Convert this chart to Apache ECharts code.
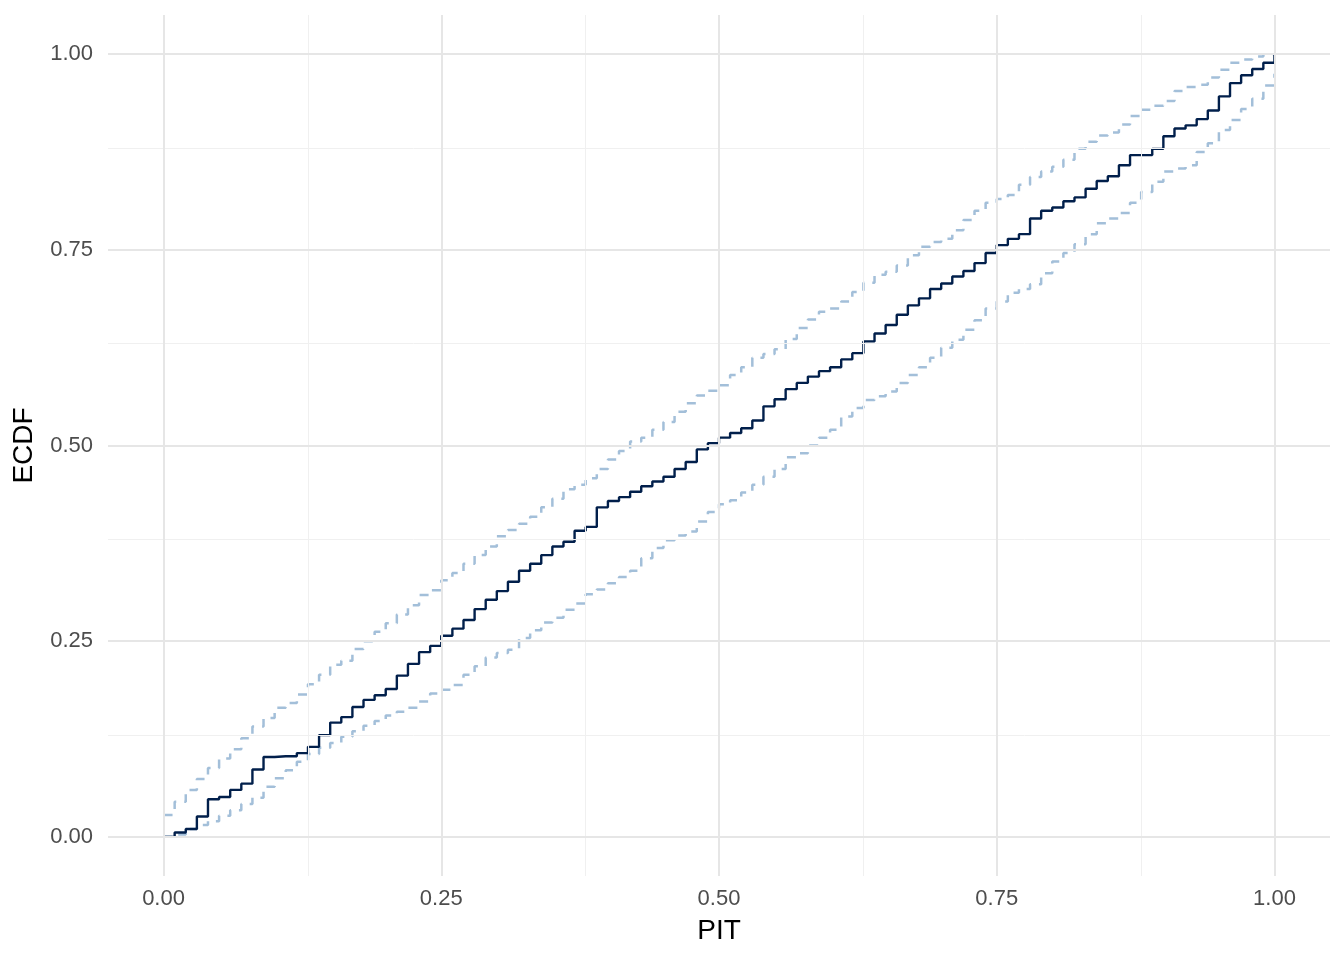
<!DOCTYPE html>
<html>
<head>
<meta charset="utf-8">
<script src="https://cdn.jsdelivr.net/npm/echarts@6/dist/echarts.min.js"></script>
<style>
  html, body { margin: 0; padding: 0; background: #fff; }
  #chart { width: 1344px; height: 960px; }
</style>
</head>
<body>
<div id="chart"></div>
<script>
// PIT evaluation grid (0, 0.01, ..., 1)
const pitGrid = Array.from({ length: 101 }, (_, i) => i / 100)

const ecdf = [
  0, 0.0055, 0.01, 0.026, 0.048, 0.051, 0.060, 0.068, 0.086, 0.102,
  0.103, 0.103, 0.107, 0.115, 0.130, 0.146, 0.153, 0.166, 0.175, 0.181,
  0.189, 0.206, 0.221, 0.236, 0.244, 0.257, 0.266, 0.277, 0.291, 0.303,
  0.314, 0.326, 0.340, 0.349, 0.360, 0.371, 0.377, 0.391, 0.396, 0.421,
  0.429, 0.434, 0.441, 0.448, 0.454, 0.460, 0.470, 0.479, 0.495, 0.503,
  0.510, 0.516, 0.522, 0.532, 0.550, 0.559, 0.572, 0.580, 0.588, 0.595,
  0.600, 0.610, 0.618, 0.633, 0.643, 0.654, 0.667, 0.679, 0.688, 0.700,
  0.707, 0.716, 0.723, 0.733, 0.746, 0.756, 0.764, 0.770, 0.790, 0.800,
  0.804, 0.812, 0.817, 0.828, 0.838, 0.844, 0.858, 0.871, 0.871, 0.879,
  0.895, 0.905, 0.909, 0.917, 0.928, 0.946, 0.963, 0.973, 0.981, 0.989,
  1.0
]

// simultaneous confidence band, upper edge
const upperBand = [
  0.028, 0.045, 0.060, 0.074, 0.088, 0.100, 0.112, 0.126, 0.141, 0.152,
  0.165, 0.171, 0.182, 0.195, 0.207, 0.220, 0.225, 0.240, 0.250, 0.262,
  0.273, 0.284, 0.296, 0.309, 0.315, 0.328, 0.337, 0.349, 0.360, 0.371,
  0.384, 0.392, 0.400, 0.409, 0.421, 0.432, 0.444, 0.450, 0.458, 0.470,
  0.482, 0.493, 0.505, 0.510, 0.520, 0.530, 0.543, 0.554, 0.564, 0.570,
  0.577, 0.590, 0.600, 0.612, 0.617, 0.623, 0.636, 0.650, 0.661, 0.671,
  0.675, 0.684, 0.696, 0.708, 0.718, 0.722, 0.730, 0.743, 0.754, 0.760,
  0.764, 0.775, 0.788, 0.800, 0.810, 0.815, 0.820, 0.833, 0.843, 0.850,
  0.856, 0.865, 0.879, 0.888, 0.896, 0.900, 0.910, 0.921, 0.929, 0.934,
  0.940, 0.953, 0.958, 0.961, 0.970, 0.980, 0.989, 0.993, 0.997, 1.0,
  1.0
]

// simultaneous confidence band, lower edge
const lowerBand = [
  0, 0.003, 0.010, 0.015, 0.020, 0.027, 0.034, 0.042, 0.050, 0.064,
  0.075, 0.085, 0.096, 0.106, 0.114, 0.120, 0.128, 0.135, 0.142, 0.148,
  0.155, 0.160, 0.165, 0.173, 0.183, 0.188, 0.194, 0.207, 0.218, 0.229,
  0.235, 0.239, 0.254, 0.264, 0.274, 0.280, 0.290, 0.298, 0.310, 0.316,
  0.324, 0.332, 0.340, 0.356, 0.369, 0.379, 0.385, 0.390, 0.403, 0.415,
  0.425, 0.430, 0.440, 0.450, 0.460, 0.470, 0.485, 0.490, 0.500, 0.510,
  0.520, 0.537, 0.548, 0.558, 0.563, 0.569, 0.580, 0.590, 0.600, 0.612,
  0.625, 0.635, 0.648, 0.660, 0.675, 0.684, 0.695, 0.700, 0.706, 0.720,
  0.735, 0.746, 0.757, 0.770, 0.784, 0.790, 0.797, 0.810, 0.824, 0.837,
  0.850, 0.854, 0.858, 0.875, 0.886, 0.903, 0.916, 0.930, 0.943, 0.960,
  0.975
]

const tickValues = [0, 0.25, 0.5, 0.75, 1]
const minorValues = [0.125, 0.375, 0.625, 0.875]

const pairs = ys => pitGrid.map((x, i) => [x, ys[i]])

const chart = echarts.init(document.getElementById('chart'))

const gridLines = (axis, values, width, color) => values.map(v => ({
  [axis]: v,
  lineStyle: { width: width, color: color, type: 'solid' }
}))

chart.setOption({
  animation: false,
  textStyle: { fontFamily: 'Liberation Sans, Arial, sans-serif' },
  grid: {
    left: 108,
    right: 14,
    top: 15,
    bottom: 84
  },
  xAxis: {
    type: 'value',
    min: -0.05,
    max: 1.05,
    name: 'PIT',
    nameLocation: 'middle',
    nameGap: 41,
    nameTextStyle: { fontSize: 28, color: '#000' },
    axisLine: { show: false },
    axisTick: { show: false },
    splitLine: { show: false },
    axisLabel: {
      customValues: tickValues,
      formatter: v => v.toFixed(2),
      fontSize: 22,
      color: '#4d4d4d',
      margin: 12
    }
  },
  yAxis: {
    type: 'value',
    min: -0.05,
    max: 1.05,
    name: 'ECDF',
    nameLocation: 'middle',
    nameGap: 70,
    nameTextStyle: { fontSize: 28, color: '#000' },
    axisLine: { show: false },
    axisTick: { show: false },
    splitLine: { show: false },
    axisLabel: {
      customValues: tickValues,
      formatter: v => v.toFixed(2),
      fontSize: 22,
      color: '#4d4d4d',
      margin: 15
    }
  },
  series: [
    {
      // panel grid lines
      type: 'line',
      data: [],
      z: 1,
      silent: true,
      markLine: {
        silent: true,
        symbol: 'none',
        label: { show: false },
        animation: false,
        data: [].concat(
          gridLines('xAxis', minorValues, 1, '#f0f0f0'),
          gridLines('yAxis', minorValues, 1, '#f0f0f0'),
          gridLines('xAxis', tickValues, 2, '#e6e6e6'),
          gridLines('yAxis', tickValues, 2, '#e6e6e6')
        )
      }
    },
    {
      name: 'upper',
      type: 'line',
      step: 'end',
      showSymbol: false,
      z: 2,
      lineStyle: { color: '#a3bfd9', width: 2.5, type: [9, 8] },
      data: pairs(upperBand)
    },
    {
      name: 'lower',
      type: 'line',
      step: 'end',
      showSymbol: false,
      z: 2,
      lineStyle: { color: '#a3bfd9', width: 2.5, type: [9, 8] },
      data: pairs(lowerBand)
    },
    {
      name: 'ECDF',
      type: 'line',
      step: 'end',
      showSymbol: false,
      z: 3,
      lineStyle: { color: '#011f4b', width: 2.4 },
      data: pairs(ecdf)
    }
  ]
})
</script>
</body>
</html>
